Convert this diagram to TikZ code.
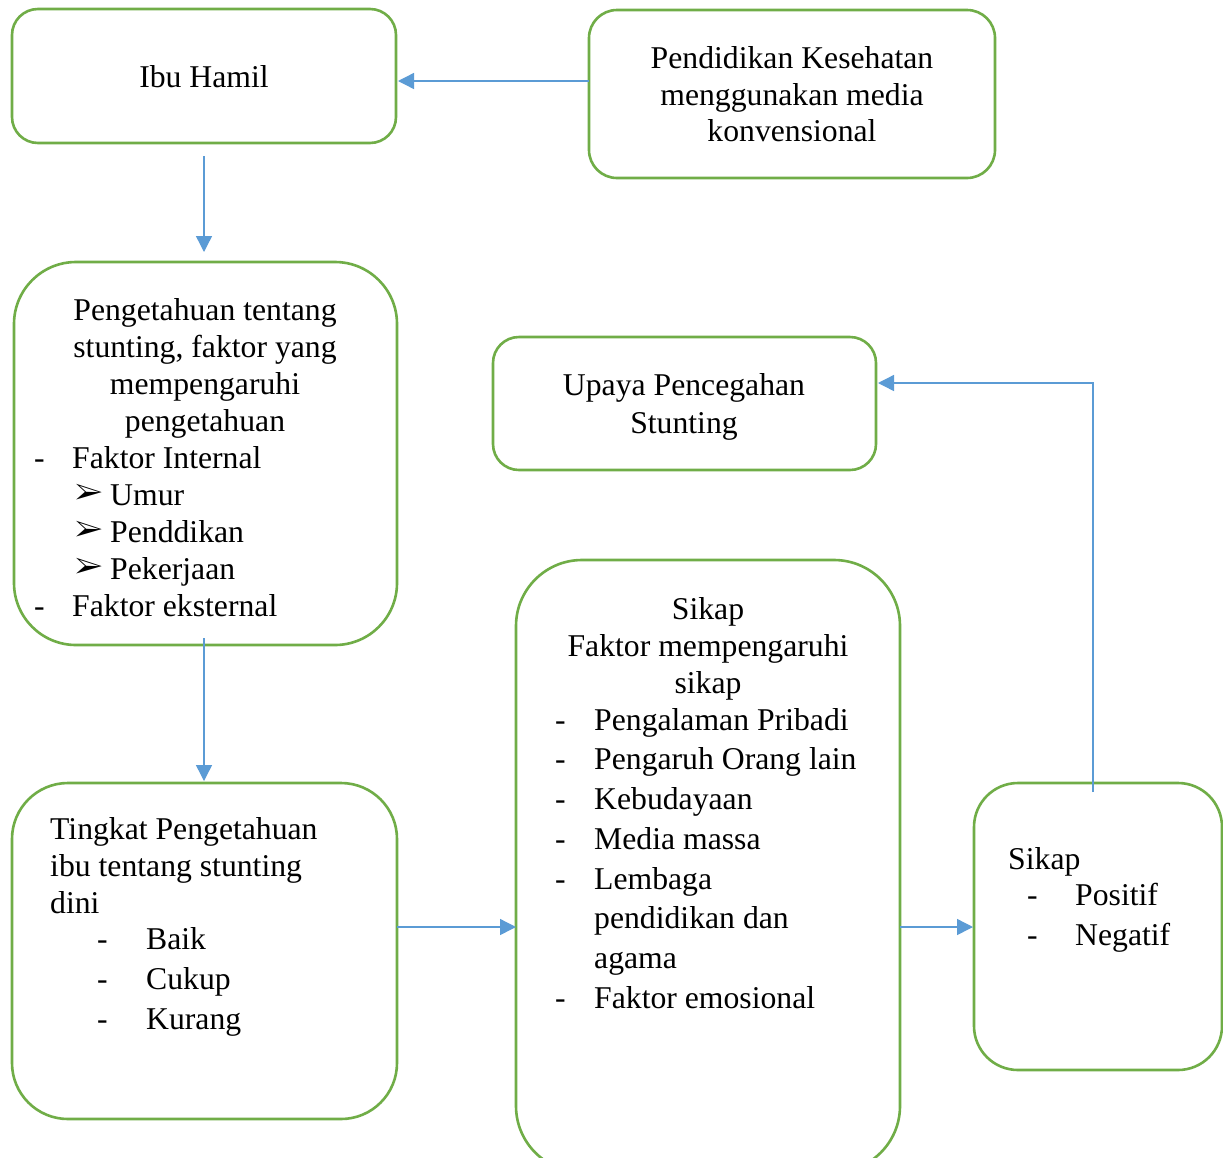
\documentclass[tikz,border=0pt]{standalone}
\usepackage{fontspec}
\usepackage{pifont}
\setmainfont{Liberation Serif}
\usetikzlibrary{arrows.meta}
\definecolor{boxgreen}{HTML}{70AD47}
\definecolor{arrblue}{HTML}{5B9BD5}
\tikzset{
  box/.style={draw=boxgreen, line width=2.6pt, fill=none},
  txt/.style={inner sep=0pt, font=\fontsize{31.7}{37}\selectfont},
  arr/.style={draw=arrblue, line width=1.4pt, -{Triangle[length=16pt,width=16pt]}},
  bullet/.style={inner sep=0pt, font=\fontsize{30}{37}\selectfont}
}
\begin{document}
\begin{tikzpicture}[x=1pt,y=-1pt]
\useasboundingbox (0,0) rectangle (1223,1157);
\clip (0,0) rectangle (1223,1157);
\fill[white] (0,0) rectangle (1223,1157);
% boxes
\node[box, minimum width=384pt, minimum height=134pt, rounded corners=26pt] (ibu) at (204,76) {};
\node[box, minimum width=406pt, minimum height=168pt, rounded corners=28pt] (pend) at (792,94) {};
\node[box, minimum width=383pt, minimum height=383pt, rounded corners=62pt] (peng) at (205.5,453.5) {};
\node[box, minimum width=383pt, minimum height=133pt, rounded corners=26pt] (upaya) at (684.5,403.5) {};
\node[box, minimum width=385pt, minimum height=336pt, rounded corners=56pt] (ting) at (204.5,951) {};
\node[box, minimum width=384pt, minimum height=612pt, rounded corners=66pt] (sikapm) at (708,866) {};
\node[box, minimum width=248pt, minimum height=287pt, rounded corners=44pt] (sikapr) at (1098,926.5) {};
% texts box 1
\node[txt, anchor=base] (t1) at (204,87) {Ibu Hamil};
% box 2
\node[txt, anchor=base] (t2a) at (792,68) {Pendidikan Kesehatan};
\node[txt, anchor=base] (t2b) at (792,105) {menggunakan media};
\node[txt, anchor=base] (t2c) at (792,141) {konvensional};
% box 3
\node[txt, anchor=base] (t3a) at (205,320) {Pengetahuan tentang};
\node[txt, anchor=base] (t3b) at (205,357) {stunting, faktor yang};
\node[txt, anchor=base] (t3c) at (205,394) {mempengaruhi};
\node[txt, anchor=base] (t3d) at (205,431) {pengetahuan};
\node[txt, anchor=base west] (t3e) at (34,468) {-};
\node[txt, anchor=base west] (t3f) at (72,468) {Faktor Internal};
\node[bullet, anchor=base west] (t3g) at (75,502) {\ding{226}};
\node[txt, anchor=base west] (t3h) at (110,505) {Umur};
\node[bullet, anchor=base west] (t3i) at (75,539) {\ding{226}};
\node[txt, anchor=base west] (t3j) at (110,542) {Penddikan};
\node[bullet, anchor=base west] (t3k) at (75,576) {\ding{226}};
\node[txt, anchor=base west] (t3l) at (110,579) {Pekerjaan};
\node[txt, anchor=base west] (t3m) at (34,616) {-};
\node[txt, anchor=base west] (t3n) at (72,616) {Faktor eksternal};
% box 4
\node[txt, anchor=base] (t4a) at (684,395) {Upaya Pencegahan};
\node[txt, anchor=base] (t4b) at (684,433) {Stunting};
% box 5
\node[txt, anchor=base west] (t5a) at (50,839) {Tingkat Pengetahuan};
\node[txt, anchor=base west] (t5b) at (50,876) {ibu tentang stunting};
\node[txt, anchor=base west] (t5c) at (50,913) {dini};
\node[txt, anchor=base west] (t5d) at (97,949) {-};
\node[txt, anchor=base west] (t5e) at (146,949) {Baik};
\node[txt, anchor=base west] (t5f) at (97,989) {-};
\node[txt, anchor=base west] (t5g) at (146,989) {Cukup};
\node[txt, anchor=base west] (t5h) at (97,1029) {-};
\node[txt, anchor=base west] (t5i) at (146,1029) {Kurang};
% box 6
\node[txt, anchor=base] (t6a) at (708,619) {Sikap};
\node[txt, anchor=base] (t6b) at (708,656) {Faktor mempengaruhi};
\node[txt, anchor=base] (t6c) at (708,693) {sikap};
\node[txt, anchor=base west] (t6d1) at (555,730) {-};
\node[txt, anchor=base west] (t6d) at (594,730) {Pengalaman Pribadi};
\node[txt, anchor=base west] (t6e1) at (555,769) {-};
\node[txt, anchor=base west] (t6e) at (594,769) {Pengaruh Orang lain};
\node[txt, anchor=base west] (t6f1) at (555,809) {-};
\node[txt, anchor=base west] (t6f) at (594,809) {Kebudayaan};
\node[txt, anchor=base west] (t6g1) at (555,849) {-};
\node[txt, anchor=base west] (t6g) at (594,849) {Media massa};
\node[txt, anchor=base west] (t6h1) at (555,889) {-};
\node[txt, anchor=base west] (t6h) at (594,889) {Lembaga};
\node[txt, anchor=base west] (t6i) at (594,928) {pendidikan dan};
\node[txt, anchor=base west] (t6j) at (594,968) {agama};
\node[txt, anchor=base west] (t6k1) at (555,1008) {-};
\node[txt, anchor=base west] (t6k) at (594,1008) {Faktor emosional};
% box 7
\node[txt, anchor=base west] (t7a) at (1008,869) {Sikap};
\node[txt, anchor=base west] (t7b1) at (1027,905) {-};
\node[txt, anchor=base west] (t7b) at (1075,905) {Positif};
\node[txt, anchor=base west] (t7c1) at (1027,945) {-};
\node[txt, anchor=base west] (t7c) at (1075,945) {Negatif};
% connector coordinates
\coordinate (c1s) at (589,81);
\coordinate (c1e) at (398,81);
\coordinate (c2s) at (204,156);
\coordinate (c2e) at (204,252);
\coordinate (c3s) at (204,638);
\coordinate (c3e) at (204,781);
\coordinate (c4s) at (397,927);
\coordinate (c4e) at (516,927);
\coordinate (c5s) at (900,927);
\coordinate (c5e) at (973,927);
\coordinate (c6s) at (1093,792);
\coordinate (c6m) at (1093,383);
\coordinate (c6e) at (878,383);
% connectors
\draw[arr] (c1s) -- (c1e);
\draw[arr] (c2s) -- (c2e);
\draw[arr] (c3s) -- (c3e);
\draw[arr] (c4s) -- (c4e);
\draw[arr] (c5s) -- (c5e);
\draw[arr] (c6s) -- (c6m) -- (c6e);
\end{tikzpicture}
\end{document}
